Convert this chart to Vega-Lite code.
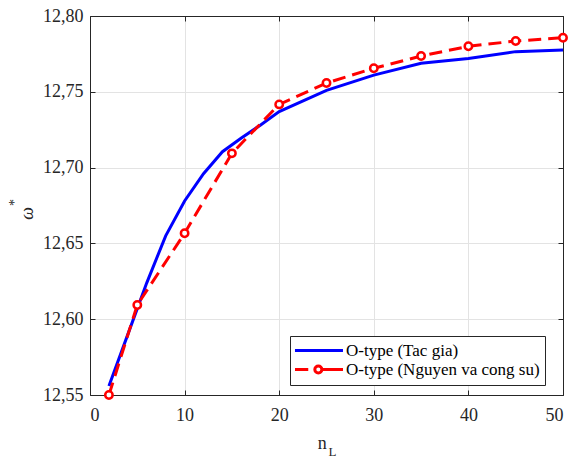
{
  "$schema": "https://vega.github.io/schema/vega-lite/v6.json",
  "width": 473,
  "height": 379,
  "autosize": {"type": "none"},
  "padding": {"left": 90, "top": 16, "right": 9, "bottom": 64},
  "background": "white",
  "config": {"view": {"stroke": null}, "font": "Liberation Serif, Times New Roman, serif"},
  "data": {
    "values": [
      {"series": "O-type (Tac gia)", "n": 2, "w": 12.556},
      {"series": "O-type (Tac gia)", "n": 4, "w": 12.590},
      {"series": "O-type (Tac gia)", "n": 6, "w": 12.624},
      {"series": "O-type (Tac gia)", "n": 8, "w": 12.655},
      {"series": "O-type (Tac gia)", "n": 10, "w": 12.678},
      {"series": "O-type (Tac gia)", "n": 12, "w": 12.696},
      {"series": "O-type (Tac gia)", "n": 14, "w": 12.7105},
      {"series": "O-type (Tac gia)", "n": 16, "w": 12.7195},
      {"series": "O-type (Tac gia)", "n": 18, "w": 12.728},
      {"series": "O-type (Tac gia)", "n": 20, "w": 12.737},
      {"series": "O-type (Tac gia)", "n": 25, "w": 12.751},
      {"series": "O-type (Tac gia)", "n": 30, "w": 12.761},
      {"series": "O-type (Tac gia)", "n": 35, "w": 12.7688},
      {"series": "O-type (Tac gia)", "n": 40, "w": 12.772},
      {"series": "O-type (Tac gia)", "n": 45, "w": 12.7765},
      {"series": "O-type (Tac gia)", "n": 50, "w": 12.7776},
      {"series": "O-type (Nguyen va cong su)", "n": 2, "w": 12.550},
      {"series": "O-type (Nguyen va cong su)", "n": 5, "w": 12.6094},
      {"series": "O-type (Nguyen va cong su)", "n": 10, "w": 12.6567},
      {"series": "O-type (Nguyen va cong su)", "n": 15, "w": 12.7094},
      {"series": "O-type (Nguyen va cong su)", "n": 20, "w": 12.7417},
      {"series": "O-type (Nguyen va cong su)", "n": 25, "w": 12.7558},
      {"series": "O-type (Nguyen va cong su)", "n": 30, "w": 12.7655},
      {"series": "O-type (Nguyen va cong su)", "n": 35, "w": 12.7736},
      {"series": "O-type (Nguyen va cong su)", "n": 40, "w": 12.780},
      {"series": "O-type (Nguyen va cong su)", "n": 45, "w": 12.7835},
      {"series": "O-type (Nguyen va cong su)", "n": 50, "w": 12.7857}
    ]
  },
  "layer": [
    {
      "transform": [{"filter": "datum.series == 'O-type (Tac gia)'"}],
      "mark": {"type": "line", "strokeWidth": 3},
      "encoding": {
        "x": {
          "field": "n", "type": "quantitative",
          "scale": {"domain": [0, 50], "nice": false},
          "axis": {
            "orient": "bottom", "values": [0, 10, 20, 30, 40, 50],
            "title": "n", "titleX": 231.7, "titleY": 53, "titleAlign": "center", "titleBaseline": "alphabetic",
            "titleFontSize": 18, "titleFontWeight": "normal", "titleColor": "#262626", "titleFont": "Liberation Serif, Times New Roman, serif",
            "labelFont": "Liberation Serif, Times New Roman, serif", "labelFontSize": 18, "labelColor": "#262626", "labelPadding": 16,
            "tickSize": -5, "tickColor": "#262626", "tickWidth": 1, "domainColor": "#262626", "domainWidth": 1,
            "grid": true, "gridColor": "#e3e3e3", "gridWidth": 1
          }
        },
        "y": {
          "field": "w", "type": "quantitative",
          "scale": {"domain": [12.55, 12.8], "nice": false, "zero": false},
          "axis": {
            "orient": "left", "values": [12.55, 12.6, 12.65, 12.7, 12.75, 12.8],
            "labelExpr": "replace(format(datum.value, '.2f'), '.', ',')",
            "title": "ω", "titleX": -63, "titleY": 197, "titleAngle": -90, "titleAlign": "center", "titleBaseline": "middle",
            "titleFontSize": 18, "titleFontWeight": "normal", "titleFontStyle": "italic", "titleColor": "#262626", "titleFont": "Liberation Serif, Times New Roman, serif",
            "labelFont": "Liberation Serif, Times New Roman, serif", "labelFontSize": 18, "labelColor": "#262626", "labelPadding": 12,
            "tickSize": -5, "tickColor": "#262626", "tickWidth": 1, "domainColor": "#262626", "domainWidth": 1,
            "grid": true, "gridColor": "#e3e3e3", "gridWidth": 1
          }
        },
        "color": {
          "field": "series", "type": "nominal",
          "scale": {"domain": ["O-type (Tac gia)", "O-type (Nguyen va cong su)"], "range": ["#0000ff", "#ff0000"]},
          "legend": {
            "orient": "none", "legendX": 200, "legendY": 320, "title": null,
            "strokeColor": "#262626", "fillColor": "white", "padding": 5,
            "labelFont": "Liberation Serif, Times New Roman, serif", "labelFontSize": 17, "labelColor": "black", "labelOffset": 32, "labelLimit": 400,
            "symbolType": "stroke", "symbolSize": 256, "symbolStrokeWidth": 3, "rowPadding": 0,
            "encode": {
              "symbols": {
                "update": {
                  "shape": {"signal": "datum.value === 'O-type (Tac gia)' ? 'M-1.19,0H4.81' : 'M-1.19,0H0.47M2.16,0H4.81M2.17,0A0.44,0.44,0,1,1,1.29,0A0.44,0.44,0,1,1,2.17,0'"},
                  "strokeDash": {"value": []},
                  "strokeWidth": {"value": 3},
                  "fill": {"value": "white"}
                }
              }
            }
          }
        }
      }
    },
    {
      "transform": [{"filter": "datum.series == 'O-type (Nguyen va cong su)'"}],
      "mark": {"type": "line", "strokeWidth": 3, "strokeDash": [13, 7]},
      "encoding": {
        "x": {
          "field": "n", "type": "quantitative",
          "axis": {
            "orient": "top", "values": [0, 10, 20, 30, 40, 50], "labels": false, "grid": false,
            "title": "L", "titleX": 238, "titleY": 439, "titleAlign": "left", "titleBaseline": "alphabetic", "titleAngle": 0,
            "titleFontSize": 13, "titleFontWeight": "normal", "titleColor": "#262626", "titleFont": "Liberation Serif, Times New Roman, serif",
            "tickSize": -5, "tickColor": "#262626", "domainColor": "#262626"
          }
        },
        "y": {
          "field": "w", "type": "quantitative",
          "axis": {
            "orient": "right", "values": [12.55, 12.6, 12.65, 12.7, 12.75, 12.8], "labels": false, "grid": false,
            "title": "*", "titleX": -549, "titleY": 186, "titleAngle": -90, "titleAlign": "center", "titleBaseline": "middle",
            "titleFontSize": 14, "titleFontWeight": "normal", "titleColor": "#262626", "titleFont": "Liberation Serif, Times New Roman, serif",
            "tickSize": -5, "tickColor": "#262626", "domainColor": "#262626"
          }
        },
        "color": {"field": "series", "type": "nominal"}
      }
    },
    {
      "transform": [{"filter": "datum.series == 'O-type (Nguyen va cong su)'"}],
      "mark": {"type": "point", "shape": "circle", "size": 55, "strokeWidth": 2.5, "fill": "white", "opacity": 1},
      "encoding": {
        "x": {"field": "n", "type": "quantitative", "axis": null},
        "y": {"field": "w", "type": "quantitative", "axis": null},
        "color": {"field": "series", "type": "nominal"}
      }
    }
  ],
  "resolve": {"axis": {"x": "independent", "y": "independent"}}
}
